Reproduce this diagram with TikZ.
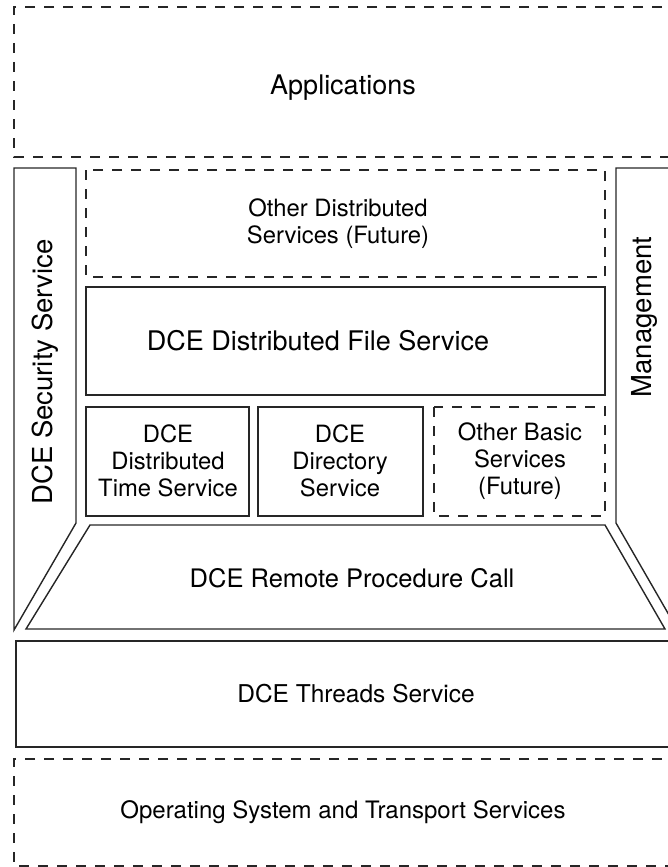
\documentclass[tikz,border=0pt]{standalone}
\usepackage{fontspec}
\setmainfont{TeX Gyre Heros}
\begin{document}
\begin{tikzpicture}[x=1pt,y=-1pt,
  box/.style={draw=black!85, line width=1.4pt},
  dbox/.style={draw=black!85, line width=1.4pt, dash pattern=on 10pt off 9pt},
  big/.style={font=\fontsize{26}{30}\selectfont, align=center, inner sep=0pt},
  small/.style={font=\fontsize{23.8}{27}\selectfont, align=center, inner sep=0pt}]
\useasboundingbox (0,0) rectangle (668,867);
\clip (0,0) rectangle (668,867);
% Applications
\draw[dbox] (700,7) -- (14,7) -- (14,157) -- (700,157);
\node[big, font=\fontsize{27}{30}\selectfont] (app) at (343,88) {Applications};
% Security
\draw[box] (14,168) -- (76,168) -- (76,523) -- (14,630) -- cycle;
\node[big, rotate=90, font=\fontsize{27.5}{30}\selectfont] (sec) at (45,372) {DCE Security Service};
% Management
\draw[box] (700,168) -- (616,168) -- (616,523) -- (684,641);
\node[big, rotate=90, font=\fontsize{27.5}{30}\selectfont] (mgmt) at (644,317) {Management};
% Other distributed
\draw[dbox] (86,170) rectangle (605,277);
\node[small] (odist) at (338,224) {Other Distributed\\Services (Future)};
% DFS
\draw[box] (86,287) rectangle (605,395);
\node[big, font=\fontsize{27}{30}\selectfont] (dfs) at (318,341) {DCE Distributed File Service};
% Lower row
\draw[box] (86,407) rectangle (249,516);
\node[small] (dts) at (168,461) {DCE\\Distributed\\Time Service};
\draw[box] (258,407) rectangle (423,516);
\node[small] (dir) at (340,461) {DCE\\Directory\\Service};
\draw[dbox] (434,407) rectangle (605,516);
\node[small] (obs) at (520,461) {Other Basic\\Services\\(Future)};
% RPC
\draw[box] (90,525) -- (605,525) -- (665,629) -- (26,629) -- cycle;
\node[big, font=\fontsize{25.5}{30}\selectfont] (rpc) at (352,578) {DCE Remote Procedure Call};
% Threads
\draw[box] (700,641) -- (16,641) -- (16,747) -- (700,747);
\node[big, font=\fontsize{24.5}{30}\selectfont] (thr) at (356,694) {DCE Threads Service};
% OS
\draw[dbox] (700,759) -- (14,759) -- (14,866) -- (700,866);
\node[big, font=\fontsize{24}{30}\selectfont] (os) at (343,812) {Operating System and Transport Services};
\end{tikzpicture}
\end{document}
